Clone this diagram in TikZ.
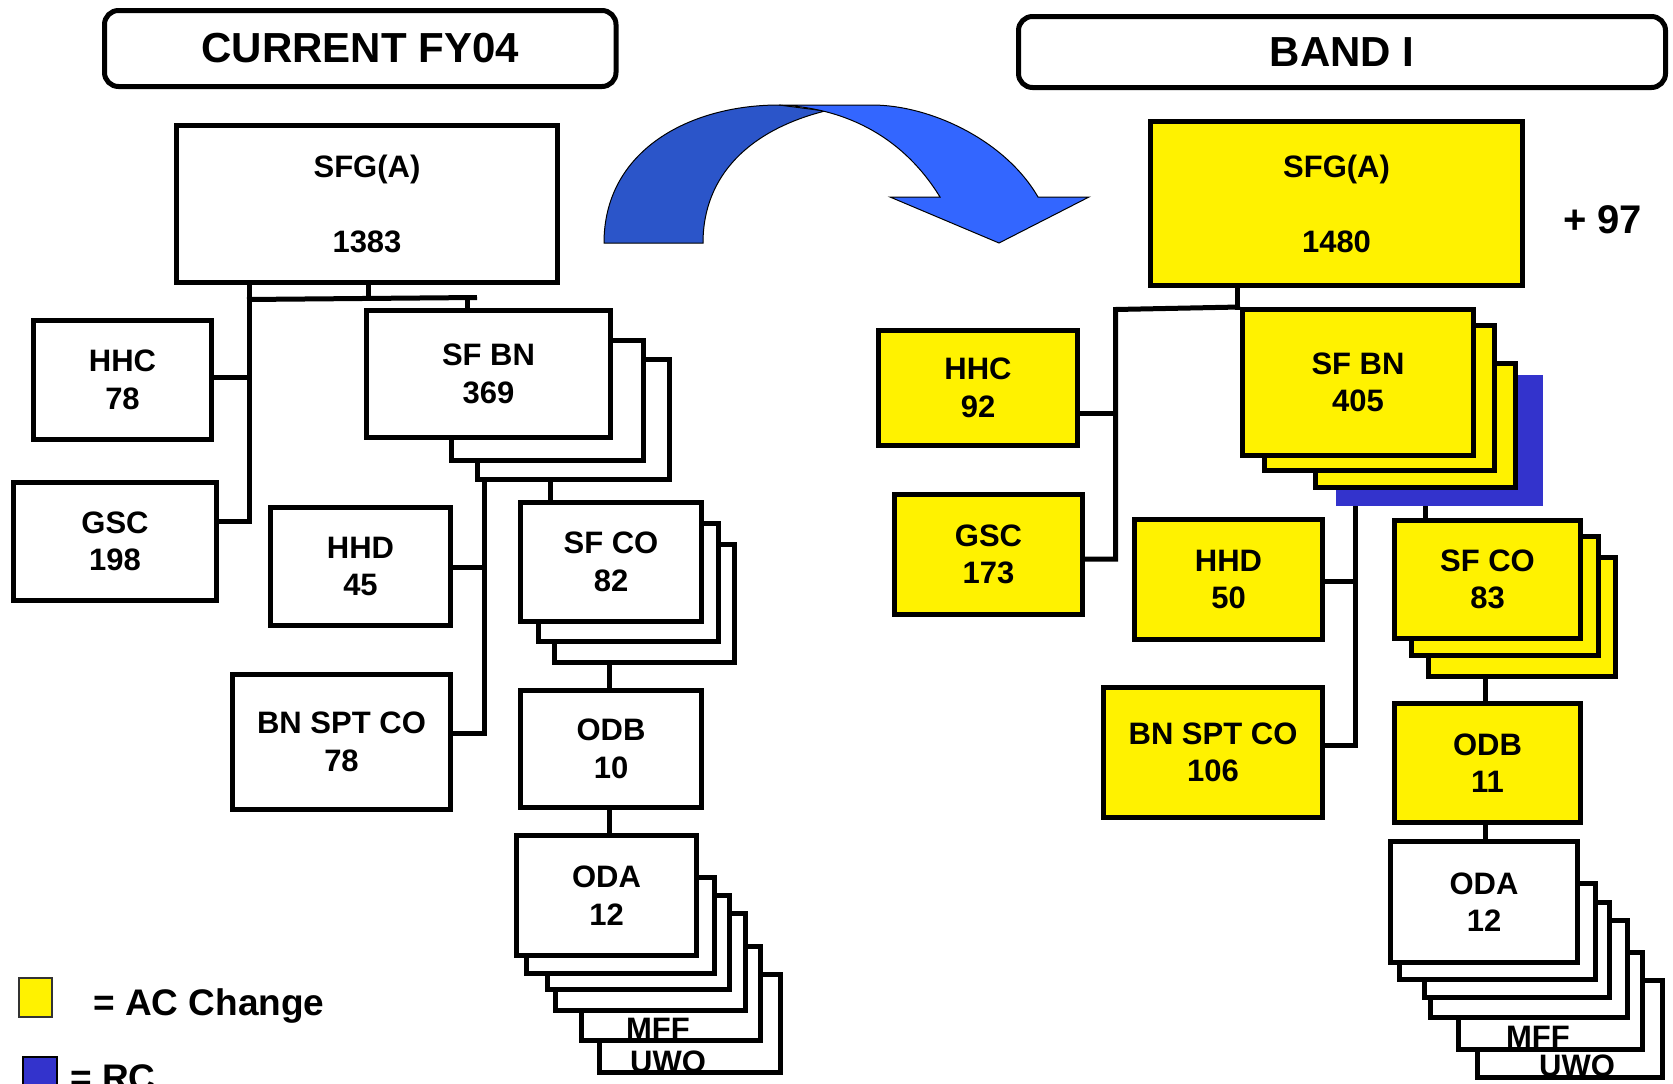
\documentclass[tikz,border=0pt]{standalone}
\usepackage{fontspec}
\setmainfont{Liberation Sans}
\definecolor{rcblue}{HTML}{3333CC}
\definecolor{arrD}{HTML}{2B55C9}
\definecolor{arrL}{HTML}{3366FF}
\tikzset{
  bx/.style={draw=black, line width=5pt, fill=white, inner sep=0pt, align=center,
    font=\bfseries\fontsize{31}{37.5}\selectfont},
  ybx/.style={bx, fill=yellow},
  ttl/.style={draw=black, line width=5pt, fill=white, rounded corners=14pt, inner sep=0pt,
    font=\bfseries\fontsize{42}{50}\selectfont},
  ln/.style={draw=black, line width=5pt},
  lab/.style={inner sep=0pt, font=\bfseries\fontsize{31}{37.5}\selectfont},
}
\newcommand\mkbox[7]{\node[#2, minimum width={#5pt-#3pt}, minimum height={#6pt-#4pt}] (#1) at ({(#3+#5)/2},{(#4+#6)/2}) {#7};}
\begin{document}
\begin{tikzpicture}[x=1pt,y=-1pt]
\useasboundingbox (0,0) rectangle (1673,1084);
\clip (0,0) rectangle (1673,1084);
\fill[white] (0,0) rectangle (1673,1084);

% titles
\mkbox{titleL}{ttl}{104.5}{10.5}{616}{86.5}{CURRENT FY04}
\mkbox{titleR}{ttl}{1018.5}{16.5}{1665.5}{87.5}{BAND I}

% curved arrow
\draw[fill=arrD, line width=1pt] (604,243) .. controls (604,150) and (690,105) .. (779,105)
  -- (825,111) .. controls (750,130) and (703,175) .. (703,243) -- cycle;
\draw[fill=arrL, line width=1pt] (779,105) -- (872,105) .. controls (930,105) and (1005,140) .. (1038,197)
  -- (1089,197) -- (999,243) -- (890,197) -- (940,197) .. controls (905,140) and (850,108) .. (779,105) -- cycle;

% ===== left side =====
\mkbox{sfgL}{bx}{176.5}{125.5}{557.5}{282.5}{SFG(A)\\[37.5pt]1383}
\mkbox{hhcL}{bx}{33.5}{320.5}{211.5}{439.5}{HHC\\78}
\mkbox{gscL}{bx}{13.5}{482.5}{216.5}{600.5}{GSC\\198}
\mkbox{sfbnL3}{bx}{477.5}{359.5}{669.5}{479.5}{}
\mkbox{sfbnL2}{bx}{451.5}{340.5}{643.5}{460.5}{}
\mkbox{sfbnL}{bx}{366.5}{310.5}{610.5}{437.5}{SF BN\\369}
\mkbox{hhdL}{bx}{270.5}{507.5}{450.5}{625.5}{HHD\\45}
\mkbox{bnsL}{bx}{232.5}{674.5}{450.5}{809.5}{BN SPT CO\\78}
\mkbox{sfcoL3}{bx}{554.5}{544.5}{734.5}{662.5}{}
\mkbox{sfcoL2}{bx}{538.5}{523.5}{718.5}{641.5}{}
\mkbox{sfcoL}{bx}{520.5}{502.5}{701.5}{621.5}{SF CO\\82}
\mkbox{odbL}{bx}{520.5}{690.5}{701.5}{807.5}{ODB\\10}
\mkbox{odaL6}{bx}{599.5}{974.5}{780.5}{1072.5}{}
\node[lab, anchor=base] (uwoL) at (668,1072) {UWO};
\mkbox{odaL5}{bx}{581.5}{946.5}{760.5}{1040.5}{}
\node[lab, anchor=base] (mffL) at (658,1039.5) {MFF};
\mkbox{odaL4}{bx}{555.5}{913.5}{745.5}{1010.5}{}
\mkbox{odaL3}{bx}{547.5}{895.5}{729.5}{989.5}{}
\mkbox{odaL2}{bx}{526.5}{877.5}{714.5}{973.5}{}
\mkbox{odaL}{bx}{516.5}{835.5}{696.5}{955.5}{ODA\\12}

% left connectors
\coordinate (bLb) at (249.5,521);
\draw[ln] (sfgL.south -| bLb) -- (bLb) -- (gscL.east |- bLb);
\coordinate (hhcLj) at (249.5,377);
\draw[ln] (hhcL.east |- hhcLj) -- (hhcLj);
\coordinate (sL1) at (247,299.5);
\coordinate (sL2) at (477,297.5);
\draw[ln] (sL1) -- (sL2);
\coordinate (dL) at (368.5,298.6);
\draw[ln] (sfgL.south -| dL) -- (dL);
\coordinate (tL) at (467.5,297.7);
\draw[ln] (tL) -- (tL |- sfbnL.north);
\coordinate (b2Lb) at (484,733);
\draw[ln] (sfbnL3.south -| b2Lb) -- (b2Lb) -- (bnsL.east |- b2Lb);
\coordinate (hhdLj) at (484,567);
\draw[ln] (hhdL.east |- hhdLj) -- (hhdLj);
\coordinate (cL) at (550,490);
\draw[ln] (sfbnL3.south -| cL) -- (cL |- sfcoL.north);
\coordinate (oL) at (609.5,700);
\draw[ln] (sfcoL3.south -| oL) -- (oL |- odbL.north);
\draw[ln] (odbL.south -| oL) -- (oL |- odaL.north);

% ===== right side =====
\mkbox{sfgR}{ybx}{1150.5}{121.5}{1522.5}{285.5}{SFG(A)\\[37.5pt]1480}
\node[anchor=base west, inner sep=0pt, font=\bfseries\fontsize{40}{48}\selectfont] (p97) at (1563,233) {+ 97};
\mkbox{hhcR}{ybx}{878.5}{330.5}{1077.5}{445.5}{HHC\\92}
\mkbox{gscR}{ybx}{894.5}{494.5}{1082.5}{614.5}{GSC\\173}
\node[fill=rcblue, inner sep=0pt, minimum width=207pt, minimum height=131pt] (rcR) at (1439.5,440.5) {};
\mkbox{sfbnR3}{ybx}{1315.5}{363.5}{1515.5}{487.5}{}
\mkbox{sfbnR2}{ybx}{1264.5}{325.5}{1494.5}{470.5}{}
\mkbox{sfbnR}{ybx}{1242.5}{309.5}{1473.5}{455.5}{SF BN\\405}
\mkbox{hhdR}{ybx}{1134.5}{519.5}{1322.5}{639.5}{HHD\\50}
\mkbox{bnsR}{ybx}{1103.5}{687.5}{1322.5}{817.5}{BN SPT CO\\106}
\mkbox{sfcoR3}{ybx}{1428.5}{557.5}{1615.5}{676.5}{}
\mkbox{sfcoR2}{ybx}{1411.5}{536.5}{1598.5}{655.5}{}
\mkbox{sfcoR}{ybx}{1394.5}{520.5}{1580.5}{638.5}{SF CO\\83}
\mkbox{odbR}{ybx}{1394.5}{703.5}{1580.5}{822.5}{ODB\\11}
\mkbox{odaR6}{bx}{1477.5}{980.5}{1662.5}{1077.5}{}
\node[lab, anchor=base] (uwoR) at (1577,1076) {UWO};
\mkbox{odaR5}{bx}{1458.5}{952.5}{1642.5}{1049.5}{}
\node[lab, anchor=base] (mffR) at (1538,1047) {MFF};
\mkbox{odaR4}{bx}{1430.5}{920.5}{1627.5}{1017.5}{}
\mkbox{odaR3}{bx}{1424.5}{902.5}{1609.5}{997.5}{}
\mkbox{odaR2}{bx}{1399.5}{883.5}{1595.5}{979.5}{}
\mkbox{odaR}{bx}{1390.5}{841.5}{1577.5}{962.5}{ODA\\12}

% right connectors
\coordinate (dR) at (1237,309.5);
\draw[ln] (sfgR.south -| dR) -- (dR);
\coordinate (bRt) at (1115.5,309.5);
\coordinate (bRb) at (1115.5,559);
\draw[ln] (sfbnR.north west) -- (bRt) -- (bRb) -- (gscR.east |- bRb);
\coordinate (hhcRj) at (1115.5,413);
\draw[ln] (hhcR.east |- hhcRj) -- (hhcRj);
\coordinate (b2Rb) at (1355.5,745);
\draw[ln] (rcR.south -| b2Rb) -- (b2Rb) -- (bnsR.east |- b2Rb);
\coordinate (hhdRj) at (1355.5,581);
\draw[ln] (hhdR.east |- hhdRj) -- (hhdRj);
\coordinate (cR) at (1425.5,510);
\draw[ln] (rcR.south -| cR) -- (cR |- sfcoR.north);
\coordinate (oR) at (1485,700);
\draw[ln] (sfcoR3.south -| oR) -- (oR |- odbR.north);
\draw[ln] (odbR.south -| oR) -- (oR |- odaR.north);

% legend
\node[draw=black!80, line width=1.5pt, fill=yellow, inner sep=0pt, minimum width=33pt, minimum height=39pt] (legY) at (35.5,997.5) {};
\node[anchor=base west, inner sep=0pt, font=\bfseries\fontsize{37}{44}\selectfont] (legYt) at (93,1015) {= AC Change};
\node[draw=black, line width=1.5pt, fill=rcblue, inner sep=0pt, minimum width=34pt, minimum height=46pt] (legB) at (40,1080) {};
\node[anchor=base west, inner sep=0pt, font=\bfseries\fontsize{37}{44}\selectfont] (legBt) at (70,1090) {= RC};
\end{tikzpicture}
\end{document}
